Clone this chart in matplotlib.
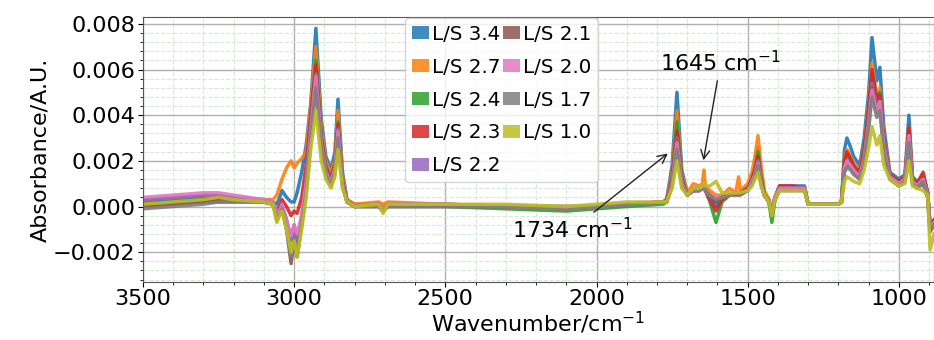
import numpy as np
import matplotlib
matplotlib.use("Agg")
import matplotlib.pyplot as plt
from matplotlib.patches import Patch
from matplotlib.ticker import MultipleLocator

# wavenumber grid (cm-1), values below are absorbance in units of 1e-4
wavenumber = [
    3500, 3400, 3300, 3250, 3200, 3100,
    3070, 3057, 3045, 3040, 3025, 3010, 3000, 2990, 2975, 2960, 2945, 2928, 2910, 2895,
    2878, 2865, 2855, 2840, 2825, 2800,
    2720, 2706, 2690, 2500, 2300, 2100, 2000, 1900, 1780,
    1768, 1750, 1734, 1718, 1700, 1680, 1660, 1650, 1645, 1640, 1625, 1605, 1585, 1560,
    1540, 1530, 1525, 1500, 1486, 1476, 1466, 1456, 1445, 1430, 1420, 1410, 1395, 1350,
    1320, 1312,
    1300, 1200, 1190, 1180, 1172, 1160, 1150, 1130, 1115, 1100, 1089, 1073, 1063, 1050,
    1030, 1000, 980, 967, 955, 940, 920, 905, 897, 884,
]

ls_34 = [
    2, 3, 4, 4, 4, 3,
    2, 1, 5, 7, 4, 2, 2, 6, 15, 27, 45, 78, 38, 22, 16, 24, 47, 15, 3, 1,
    1, -1, 1, 1, 0, 0, 0, 1, 2,
    3, 18, 50, 16, 6, 8, 8, 9, 9, 8, 5, 0, 3, 5, 6, 6, 6, 8, 13, 18, 26, 14, 6, 3, -2, 4, 9, 9, 9, 9,
    1, 1, 2, 25, 30, 26, 22, 18, 30, 50, 74, 55, 61, 35, 15, 12, 14, 40, 13, 11, 13, 6, -8, -6,
]
ls_27 = [
    3, 4, 5, 5, 4, 3,
    3, 5, 10, 12, 17, 20, 17, 19, 21, 24, 44, 70, 34, 20, 14, 21, 42, 13, 3, 1,
    2, 1, 2, 1, 0, 0, 0, 1, 2,
    3, 15, 42, 14, 6, 10, 9, 10, 16, 9, 7, 5, 5, 8, 6, 13, 7, 10, 15, 22, 31, 18, 7, 3, -2, 4, 8, 8, 8, 8,
    1, 1, 2, 21, 25, 22, 19, 16, 26, 45, 63, 48, 52, 30, 14, 11, 13, 35, 12, 10, 14, 6, -8, -6,
]
ls_24 = [
    1, 2, 3, 3, 3, 2,
    1, -6, -2, 0, -6, -15, -10, -18, -6, 12, 38, 64, 30, 18, 12, 18, 37, 11, 2, 0,
    0, -2, 0, 0, -1, -2, -1, 0, 1,
    2, 13, 37, 12, 5, 7, 7, 8, 9, 7, 2, -7, 2, 5, 6, 6, 6, 8, 12, 16, 24, 13, 5, 2, -7, 3, 8, 8, 8, 8,
    1, 1, 2, 19, 22, 20, 17, 14, 24, 42, 58, 47, 50, 28, 13, 11, 12, 33, 12, 10, 13, 6, -9, -6,
]
ls_23 = [
    0, 1, 2, 3, 3, 2,
    1, -2, 1, 3, 0, -4, -2, -3, 4, 18, 40, 62, 30, 17, 12, 19, 36, 11, 2, 0,
    1, -1, 1, 1, 0, -1, 0, 1, 2,
    3, 12, 33, 12, 5, 7, 7, 8, 9, 7, 3, -2, 3, 5, 6, 6, 6, 8, 12, 16, 22, 12, 5, 2, -3, 4, 9, 9, 8, 8,
    1, 1, 2, 20, 24, 21, 18, 15, 25, 43, 60, 46, 49, 29, 14, 11, 13, 35, 12, 10, 15, 6, -8, -6,
]
ls_22 = [
    3, 4, 5, 5, 4, 3,
    2, -3, -2, 0, -6, -14, -8, -16, -5, 12, 36, 58, 28, 16, 11, 17, 34, 10, 2, 0,
    1, -2, 1, 1, 0, 0, 0, 1, 2,
    2, 11, 30, 11, 5, 7, 7, 8, 9, 7, 4, 2, 4, 5, 6, 6, 6, 7, 11, 14, 20, 11, 5, 2, -3, 4, 8, 8, 8, 8,
    1, 1, 2, 17, 20, 18, 16, 13, 22, 38, 54, 43, 46, 27, 13, 10, 12, 31, 11, 9, 12, 5, -10, -7,
]
ls_21 = [
    0, 1, 2, 2, 2, 2,
    1, -4, -3, -1, -10, -25, -15, -22, -8, 8, 33, 55, 27, 15, 10, 16, 33, 10, 2, 0,
    0, -2, 0, 0, 0, -1, 0, 1, 2,
    2, 10, 29, 10, 5, 7, 7, 8, 9, 7, 4, 2, 4, 5, 5, 5, 5, 7, 10, 13, 19, 10, 5, 2, -3, 3, 7, 7, 7, 7,
    1, 1, 2, 16, 19, 17, 15, 12, 21, 36, 52, 41, 44, 26, 12, 9, 11, 30, 10, 8, 10, 4, -11, -8,
]
ls_20 = [
    4, 5, 6, 6, 5, 3,
    2, -3, -1, 1, -6, -13, -8, -12, -4, 10, 33, 57, 27, 15, 10, 17, 33, 10, 2, 0,
    1, -1, 1, 1, 0, -1, 0, 1, 2,
    2, 10, 28, 10, 5, 7, 7, 8, 9, 7, 5, 4, 4, 5, 6, 6, 6, 7, 11, 14, 19, 10, 5, 2, -3, 4, 8, 8, 8, 8,
    1, 1, 2, 17, 20, 18, 16, 13, 21, 36, 51, 41, 46, 26, 13, 10, 12, 31, 11, 9, 12, 5, -10, -7,
]
ls_17 = [
    -1, 0, 1, 2, 2, 2,
    1, -5, -3, -1, -10, -22, -14, -22, -8, 6, 30, 52, 25, 14, 9, 15, 30, 9, 2, 0,
    0, -2, 0, 0, 0, -1, 0, 1, 2,
    2, 9, 25, 9, 5, 7, 7, 8, 9, 7, 5, 3, 4, 5, 6, 6, 6, 7, 10, 13, 18, 10, 5, 2, -3, 3, 7, 7, 7, 7,
    1, 1, 2, 15, 17, 16, 14, 12, 20, 34, 48, 39, 42, 24, 12, 9, 11, 28, 10, 8, 11, 4, -11, -8,
]
ls_10 = [
    1, 2, 3, 4, 3, 2,
    1, -7, -3, -2, -10, -20, -15, -22, -10, 4, 25, 42, 20, 12, 8, 13, 25, 8, 2, 0,
    1, -3, 1, 1, 1, 0, 1, 2, 2,
    2, 8, 20, 8, 5, 8, 8, 9, 10, 9, 9, 11, 6, 6, 6, 6, 6, 7, 9, 12, 15, 9, 5, 2, -4, 3, 7, 7, 7, 7,
    1, 1, 2, 11, 13, 12, 11, 10, 16, 26, 35, 27, 31, 18, 12, 9, 10, 20, 9, 8, 7, 5, -19, -12,
]

labels = ["L/S 3.4", "L/S 2.7", "L/S 2.4", "L/S 2.3", "L/S 2.2",
          "L/S 2.1", "L/S 2.0", "L/S 1.7", "L/S 1.0"]
spectra = [ls_34, ls_27, ls_24, ls_23, ls_22, ls_21, ls_20, ls_17, ls_10]
colors = ["C%d" % i for i in range(9)]

fs = 16

fig = plt.figure(figsize=(9.34, 3.4), dpi=100)
ax = fig.add_axes([0.153, 0.171, 0.847, 0.779])

for spec, c in zip(spectra, colors):
    ax.plot(wavenumber, np.array(spec) * 1e-4, color=c, lw=2.5, alpha=0.9)

ax.set_xlim(3500, 884)
ax.set_ylim(-0.0033, 0.0083)
ax.xaxis.set_major_locator(MultipleLocator(500))
ax.xaxis.set_minor_locator(MultipleLocator(100))
ax.yaxis.set_major_locator(MultipleLocator(0.002))
ax.yaxis.set_minor_locator(MultipleLocator(0.0004))
ax.grid(which="major", color="#b0b0b0", lw=1.0)
ax.grid(which="minor", color="#d5ead5", ls="--", lw=0.8)
ax.set_axisbelow(True)
ax.tick_params(labelsize=fs, pad=2)
for s in ax.spines.values():
    s.set_color("#555555")

ax.set_xlabel("Wavenumber/cm$^{-1}$", fontsize=fs, labelpad=0)
ax.set_ylabel("Absorbance/A.U.", fontsize=fs, labelpad=2)

ax.annotate("1734 cm$^{-1}$", xy=(1757, 0.0024), xytext=(2080, -0.001),
            fontsize=fs, ha="center", va="center",
            arrowprops=dict(arrowstyle="->", color="#222222", lw=1))
ax.annotate("1645 cm$^{-1}$", xy=(1648, 0.0019), xytext=(1590, 0.0063),
            fontsize=fs, ha="center", va="center",
            arrowprops=dict(arrowstyle="->", color="#222222", lw=1))

handles = [Patch(facecolor=c, alpha=0.85, label=l) for c, l in zip(colors, labels)]
ax.legend(handles=handles, ncol=2, loc="upper left", bbox_to_anchor=(0.331, 0.997),
          borderaxespad=0, fontsize=14.3, handlelength=0.85, handleheight=0.6,
          handletextpad=0.15, columnspacing=0.15, labelspacing=0.7,
          borderpad=0.35, framealpha=0.8)

fig.savefig("out.png", dpi=100)
